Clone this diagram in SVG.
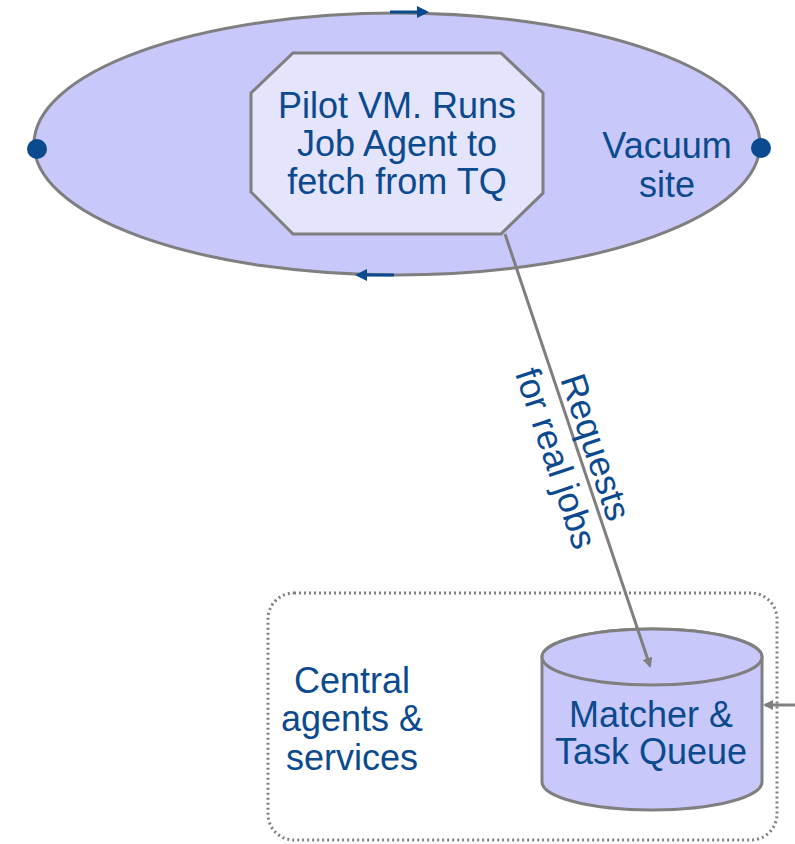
<svg xmlns="http://www.w3.org/2000/svg" width="795" height="844" viewBox="0 0 795 844">
<style>
  .lbl{font-family:"Liberation Sans",Arial,sans-serif;font-size:36px;fill:#0b4a8e;text-anchor:middle}
  .shape{stroke:#7f7f7f;stroke-width:3}
  .conn{stroke:#7f7f7f;stroke-width:3;fill:none}
  .blue{stroke:#0b4a8e;stroke-width:3;fill:none}
</style>
<defs>
  <marker id="gh" markerWidth="10" markerHeight="10" refX="8" refY="5" orient="auto" markerUnits="userSpaceOnUse" viewBox="0 0 10 10">
    <path d="M0,0 L10,5 L0,10 Z" fill="#7f7f7f"/>
  </marker>
  <marker id="bh" markerWidth="12" markerHeight="12" refX="9" refY="6" orient="auto" markerUnits="userSpaceOnUse" viewBox="0 0 12 12">
    <path d="M0,0 L12,6 L0,12 Z" fill="#0b4a8e"/>
  </marker>
</defs>
<g id="vacuum-site">
  <ellipse class="shape" cx="397" cy="144" rx="363" ry="131" fill="#c8c8fa"/>
  <text class="lbl" x="667" y="158">Vacuum</text>
  <text class="lbl" x="667" y="197">site</text>
  <circle cx="37" cy="149" r="10" fill="#0b4a8e"/>
  <circle cx="761" cy="148" r="10" fill="#0b4a8e"/>
  <line class="blue" x1="390" y1="12" x2="426" y2="12" marker-end="url(#bh)"/>
  <line class="blue" x1="394" y1="275" x2="358" y2="275" marker-end="url(#bh)"/>
</g>
<g id="pilot-vm">
  <polygon class="shape" points="293,53 501,53 543,93 543,193 501,234 293,234 251,192 251,93" fill="#e4e4fc"/>
  <text class="lbl" x="397" y="118">Pilot VM. Runs</text>
  <text class="lbl" x="397" y="156">Job Agent to</text>
  <text class="lbl" x="397" y="194">fetch from TQ</text>
</g>
<g id="central">
  <rect x="268" y="593" width="509" height="247" rx="26" ry="26" fill="none" stroke="#808080" stroke-width="3" stroke-dasharray="2 3"/>
  <text class="lbl" x="352" y="693">Central</text>
  <text class="lbl" x="352" y="731">agents &amp;</text>
  <text class="lbl" x="352" y="770">services</text>
</g>
<g id="task-queue">
  <path class="shape" d="M542,657 L542,782 A110,28 0 0 0 762,782 L762,657 A110,28 0 0 0 542,657 Z" fill="#c8c8fa"/>
  <ellipse class="shape" cx="652" cy="657" rx="110" ry="28" fill="#c8c8fa"/>
  <text class="lbl" x="651" y="727">Matcher &amp;</text>
  <text class="lbl" x="651" y="764">Task Queue</text>
</g>
<g id="connectors">
  <line class="conn" x1="505" y1="234" x2="650" y2="666" marker-end="url(#gh)"/>
  <g transform="translate(578,452) rotate(71.5)">
    <text class="lbl" x="1" y="-6">Requests</text>
    <text class="lbl" x="-1" y="35">for real jobs</text>
  </g>
  <line class="conn" x1="795" y1="705" x2="765" y2="705" marker-end="url(#gh)"/>
</g>
</svg>
